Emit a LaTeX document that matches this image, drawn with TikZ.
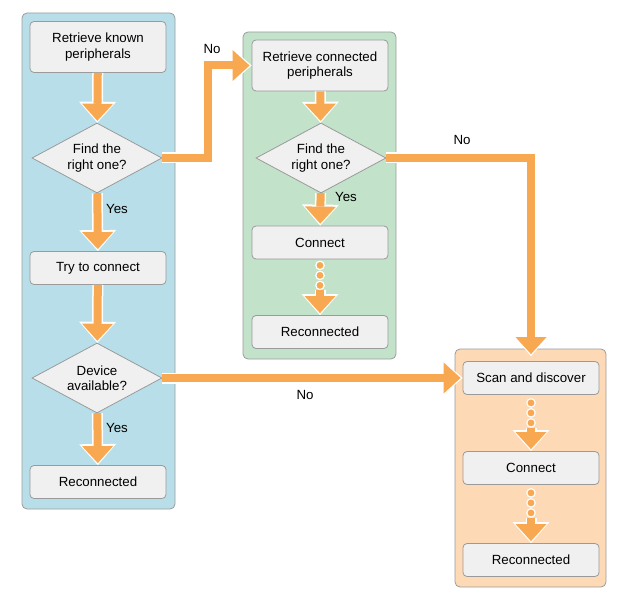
\documentclass[tikz,border=0pt]{standalone}
\usepackage{fontspec}
\setmainfont{Liberation Sans}
\usetikzlibrary{shapes.geometric,arrows.meta}
\definecolor{flowOrange}{HTML}{F9A852}
\definecolor{panelGray}{HTML}{9C9C9C}
\definecolor{boxGray}{HTML}{9A9A9A}
\definecolor{boxFill}{HTML}{F0F0F0}
\definecolor{knownBlue}{HTML}{B8DFE9}
\definecolor{connGreen}{HTML}{C2E2C9}
\definecolor{scanPeach}{HTML}{FDD9B6}
\newcommand{\flowfont}{\fontsize{13.3}{15.5}\selectfont}
\begin{document}
\begin{tikzpicture}[x=1pt,y=-1pt]
		\tikzstyle{Panel} = [draw=panelGray, line width=0.8pt, rounded corners=5pt]
		\tikzstyle{Step} = [rectangle, rounded corners=4pt, minimum width=136pt, minimum height=33pt, text centered, align=center, draw=boxGray, line width=0.8pt, fill=boxFill, font=\flowfont, inner sep=2pt]
		\tikzstyle{TwoLine} = [Step, minimum height=51pt]
		\tikzstyle{Decision} = [diamond, aspect=1.86, minimum width=130pt, minimum height=70pt, inner sep=0pt, text centered, align=center, draw=boxGray, line width=0.8pt, fill=boxFill, font=\flowfont]
		\tikzstyle{Tag} = [font=\flowfont, inner sep=0pt]
		\tikzstyle{flow} = [draw=flowOrange, line width=8pt, -{Triangle[width=31pt,length=17pt,line width=0pt]}, shorten >=2pt, preaction={draw=white, line width=11pt, -{Triangle[width=37pt,length=21pt,line width=0pt]}, shorten >=0pt}]
		\tikzstyle{Dot} = [fill=flowOrange, draw=white, line width=1.2pt]
		
		\useasboundingbox (0,0) rectangle (636,609);
		\draw [Panel, fill=knownBlue] (22,13) rectangle (175,509);
		\draw [Panel, fill=connGreen] (243,32) rectangle (396,359);
		\draw [Panel, fill=scanPeach] (455,349) rectangle (606,587);
		
		% known peripherals
		\node (knownRetrieve) [TwoLine] at (98,47) {Retrieve known\\peripherals};
		\node (knownFind) [Decision] at (97,158) {Find the\\right one?};
		\node (tryConnect) [Step] at (98,268) {Try to connect};
		\node (deviceAvail) [Decision] at (97,378) {Device\\available?};
		\node (knownDone) [Step] at (98,482) {Reconnected};
		
		% connected peripherals
		\node (connRetrieve) [TwoLine] at (320,65.5) {Retrieve connected\\peripherals};
		\node (connFind) [Decision] at (321,158) {Find the\\right one?};
		\node (connConnect) [Step] at (320,242.5) {Connect};
		\node (connDone) [Step] at (320,332) {Reconnected};
		
		% scan
		\node (scanNode) [Step] at (531,378) {Scan and discover};
		\node (scanConnect) [Step] at (531,468) {Connect};
		\node (scanDone) [Step] at (531,560) {Reconnected};
		
		\draw [flow] (knownRetrieve) -- (knownFind);
		\draw [flow] (knownFind) -- (tryConnect);
		\draw [flow] (tryConnect) -- (deviceAvail);
		\draw [flow] (deviceAvail) -- (knownDone);
		\draw [flow] (knownFind.east) -- ++(46,0) |- (connRetrieve.west);
		\draw [flow] (deviceAvail.east) -- (scanNode.west);
		
		\draw [flow] (connRetrieve) -- (connFind);
		\draw [flow] (connFind) -- (connConnect);
		\draw [flow] (connFind.east) -| ([yshift=5pt]scanNode.north);
		
		\foreach \d in {6,16,26}
			\draw [Dot] ([yshift=-\d pt]connConnect.south) circle (4.2pt);
		\draw [flow] ([yshift=-31pt]connConnect.south) -- (connDone);
		\foreach \d in {8,18,28}
			\draw [Dot] ([yshift=-\d pt]scanNode.south) circle (4.2pt);
		\draw [flow] ([yshift=-33pt]scanNode.south) -- (scanConnect);
		\foreach \d in {8,18,28}
			\draw [Dot] ([yshift=-\d pt]scanConnect.south) circle (4.2pt);
		\draw [flow] ([yshift=-33pt]scanConnect.south) -- (scanDone);
		
		\node (noA) [Tag] at (212,49) {No};
		\node (yesA) [Tag] at (117,209) {Yes};
		\node (yesB) [Tag] at (117,428) {Yes};
		\node (noB) [Tag] at (305,395) {No};
		\node (yesC) [Tag] at (346,197) {Yes};
		\node (noC) [Tag] at (462,140) {No};
		\end{tikzpicture}
\end{document}
